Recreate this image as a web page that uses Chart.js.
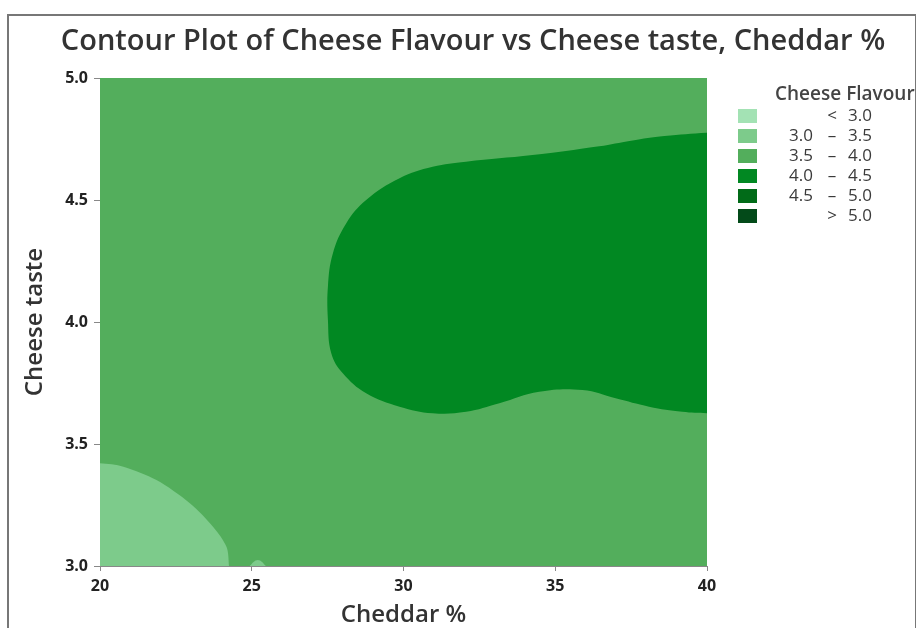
<!DOCTYPE html>
<html>
<head>
<meta charset="utf-8">
<script src="https://cdn.jsdelivr.net/npm/chart.js@4.4.1/dist/chart.umd.min.js"></script>
<style>
  html, body { margin: 0; padding: 0; background: #fff; }
  #wrap { position: relative; width: 916px; height: 628px; }
  #frame { position: absolute; left: 7px; top: 14px; width: 906px; height: 620px;
           border: 2px solid #777; border-bottom: none; pointer-events: none; }
</style>
</head>
<body>
<div id="wrap">
  <canvas id="myChart" width="916" height="628"></canvas>
  <div id="frame"></div>
</div>
<script>
var chartTitle = 'Contour Plot of Cheese Flavour vs Cheese taste, Cheddar %';

// contour levels and colours of the legend
var levelLabels = [["", "<", "3.0"], ["3.0", "–", "3.5"], ["3.5", "–", "4.0"],
                   ["4.0", "–", "4.5"], ["4.5", "–", "5.0"], ["", ">", "5.0"]];
var levelColors = ["#a3e2b4", "#7dcb8b", "#53ae5c", "#018822", "#016b18", "#034a19"];

var xTicks = [20, 25, 30, 35, 40];
var yTicks = [3.0, 3.5, 4.0, 4.5, 5.0];

// whole grid: 3.5 - 4.0 band
var gridX = [19, 19, 41, 41];
var gridY = [2.9, 5.1, 5.1, 2.9];

// 4.0 - 4.5 band
var darkX = [41, 40, 38.6, 37.5, 36.45, 34.25, 32.06, 30.96, 29.87, 28.77, 28.11, 27.67, 27.51,
             27.51, 27.62, 28.0, 28.77, 29.87, 30.96, 32.06, 33.16, 34.47, 35.9, 36.99, 38.09, 39.19, 40, 41];
var darkY = [4.78, 4.776, 4.762, 4.743, 4.72, 4.684, 4.657, 4.636, 4.589, 4.5, 4.404, 4.28, 4.145,
             4.008, 3.872, 3.79, 3.708, 3.653, 3.626, 3.632, 3.667, 3.714, 3.721, 3.687, 3.653, 3.632, 3.626, 3.626];

// 3.0 - 3.5 band, bottom left corner
var lightX = [19, 20, 20.77, 21.86, 22.96, 23.73, 24.17, 24.25, 24.3, 19];
var lightY = [3.421, 3.421, 3.407, 3.352, 3.257, 3.16, 3.078, 3.0, 2.9, 2.9];

// small 3.0 - 3.5 patch near 25
var bumpX = [24.85, 25.2, 25.55];
var bumpY = [2.99, 3.025, 2.99];

function toPoints(xs, ys) {
  return xs.map(function(x, i) { return { x: x, y: ys[i] }; });
}

function region(xs, ys, color, order, tension) {
  return {
    data: toPoints(xs, ys),
    showLine: true,
    fill: 'shape',
    backgroundColor: color,
    borderWidth: 0,
    borderColor: color,
    pointRadius: 0,
    tension: tension,
    order: order,
    clip: 0
  };
}

var tickFont = { family: 'Open Sans', size: 16, weight: 'bold' };
var axisTitleFont = { family: 'Open Sans', size: 24, weight: '600' };

// title centred on the whole picture, legend on the right
var decorPlugin = {
  id: 'decor',
  afterDraw: function(chart) {
    var ctx = chart.ctx;
    ctx.save();
    ctx.textBaseline = 'middle';
    ctx.fillStyle = '#333';
    ctx.font = '600 29px "Open Sans"';
    ctx.textAlign = 'center';
    ctx.fillText(chartTitle, 473, 42);

    ctx.fillStyle = '#444';
    ctx.font = '600 19px "Open Sans"';
    ctx.textAlign = 'left';
    ctx.fillText('Cheese Flavour', 775, 95);
    ctx.font = '17px "Open Sans"';
    levelLabels.forEach(function(lab, i) {
      var y = 116 + i * 20;
      ctx.fillStyle = levelColors[i];
      ctx.fillRect(738, y - 7, 19, 14);
      ctx.fillStyle = '#3a3a3a';
      ctx.textAlign = 'right';
      ctx.fillText(lab[0], 813, y);
      ctx.textAlign = 'center';
      ctx.fillText(lab[1], 832, y);
      ctx.textAlign = 'left';
      ctx.fillText(lab[2], 848, y);
    });
    ctx.restore();
  }
};

var myChart = new Chart(document.getElementById('myChart'), {
  type: 'scatter',
  data: {
    datasets: [
      region(gridX, gridY, levelColors[2], 4, 0),
      region(darkX, darkY, levelColors[3], 3, 0.4),
      region(lightX, lightY, levelColors[1], 2, 0.3),
      region(bumpX, bumpY, levelColors[1], 1, 0.4)
    ]
  },
  options: {
    responsive: false,
    animation: false,
    layout: { padding: { left: 0, right: 209, top: 78, bottom: 0 } },
    plugins: {
      legend: { display: false },
      tooltip: { enabled: false },
      title: { display: false }
    },
    scales: {
      x: {
        type: 'linear',
        min: 20, max: 40,
        afterBuildTicks: function(scale) { scale.ticks = xTicks.map(function(v) { return { value: v }; }); },
        afterFit: function(scale) { scale.height = 62; },
        grid: { drawOnChartArea: false, drawTicks: true, tickLength: 5, color: '#888' },
        border: { display: true, color: '#888', width: 1 },
        ticks: { color: '#222', font: tickFont, padding: 6, maxRotation: 0 },
        title: { display: true, text: 'Cheddar %', color: '#333', font: axisTitleFont,
                 padding: { top: 0, bottom: -2 } }
      },
      y: {
        type: 'linear',
        min: 3, max: 5,
        afterBuildTicks: function(scale) { scale.ticks = yTicks.map(function(v) { return { value: v }; }); },
        afterFit: function(scale) { scale.width = 100; },
        grid: { drawOnChartArea: false, drawTicks: true, tickLength: 6, color: '#888' },
        border: { display: true, color: '#888', width: 1 },
        ticks: { color: '#222', font: tickFont, padding: 6,
                 callback: function(v) { return v.toFixed(1); } },
        title: { display: true, text: 'Cheese taste', color: '#333', font: axisTitleFont,
                 padding: { top: 21, bottom: 0 } }
      }
    }
  },
  plugins: [decorPlugin]
});
</script>
</body>
</html>
